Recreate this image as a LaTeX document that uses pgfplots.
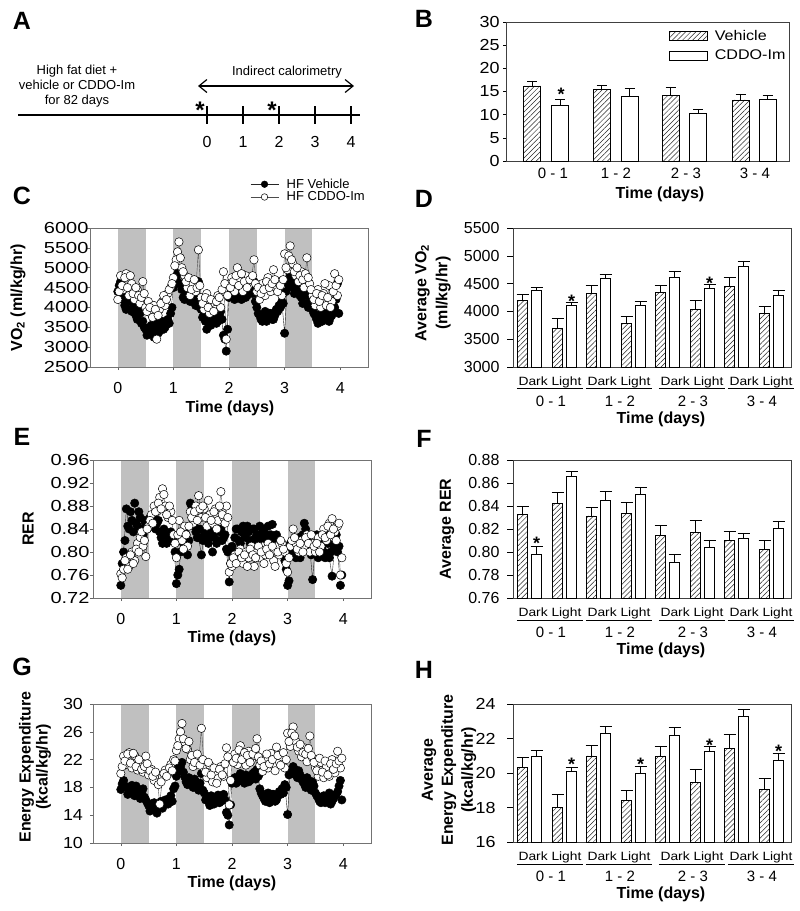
\documentclass[border=0pt]{standalone}
\usepackage{fontspec}
\setmainfont{Liberation Sans}
\newfontfamily\tickA[FakeStretch=1.25]{Liberation Sans}
\newfontfamily\tickB[FakeStretch=1.12]{Liberation Sans}
\newfontfamily\widefont[FakeStretch=1.15]{Liberation Sans}
\usepackage{pgfplots}
\pgfplotsset{compat=1.18}
\usetikzlibrary{patterns.meta,arrows.meta}
\definecolor{bandgray}{RGB}{192,192,192}

\newcommand{\tfA}{\tickA\fontsize{16}{18}\selectfont}
\newcommand{\tfB}{\tickB\fontsize{16}{18}\selectfont}
\newcommand{\tfN}{\fontsize{16}{18}\selectfont}
\newcommand{\labf}{\fontsize{16}{19}\selectfont\bfseries}
\newcommand{\letf}{\fontsize{25}{28}\selectfont\bfseries}
\newcommand{\dlf}{\widefont\fontsize{12}{14}\selectfont}
\newcommand{\grpf}{\fontsize{15}{17}\selectfont}
\newcommand{\legf}{\widefont\fontsize{14}{16}\selectfont}
\newcommand{\smf}{\fontsize{13}{15}\selectfont}
\newcommand{\starf}{\fontsize{18}{20}\selectfont\bfseries}

\pgfplotsset{
  scat/.style={scale only axis, width=278pt, height=139pt, xmin=-0.5, xmax=4.5,
    xtick={0,1,2,3,4}, xticklabels={0,1,2,3,4}, tick pos=left, tick align=outside,
    major tick length=3pt, tick style={black!60, line width=0.6pt},
    axis line style={black!55, line width=0.7pt},
    xticklabel style={font=\tfN, yshift=-9pt}, axis on top},
  veh/.style={black!85, line width=0.4pt, mark=*, mark size=4.2pt,
    mark options={fill=black, draw=black, line width=0.5pt}},
  cddo/.style={black!70, line width=0.4pt, mark=*, mark size=4.2pt,
    mark options={fill=white, draw=black, line width=0.5pt}},
  vehm/.style={veh, only marks, forget plot},
  cddom/.style={cddo, only marks, forget plot},
  band/.style={fill=bandgray, draw=none, forget plot},
  barax/.style={scale only axis, width=278pt, height=139pt, xmin=513, xmax=791,
    xtick=\empty, tick pos=left, tick align=outside, major tick length=6pt,
    tick style={black, line width=0.6pt}, axis line style={black!75, line width=0.7pt},
    yticklabel style={font=\tfN, xshift=-4pt}},
  errs/.style={error bars/y dir=plus, error bars/y explicit,
    error bars/error bar style={black, line width=0.6pt},
    error bars/error mark options={rotate=90, mark size=#1, black, line width=0.6pt}},
  vbar/.style={ybar, bar width=10, bar shift=0pt, draw=black, line width=0.6pt,
    pattern={Lines[angle=45,distance=3.6pt,line width=0.5pt]}, pattern color=black!85},
  cbar/.style={ybar, bar width=10, bar shift=0pt, draw=black, fill=white, line width=0.6pt},
}

\newcommand{\barlabels}[1]{%
  \foreach \xd/\g in {550/0 - 1, 619/1 - 2, 692/2 - 3, 761/3 - 4}{%
    \node[font=\dlf, inner xsep=1.5pt, inner ysep=1pt] (dl) at (\xd pt, -#1pt-15pt) {Dark Light};
    \draw[line width=0.6pt] (dl.south west) -- (dl.south east);
    \node[font=\grpf] at (\xd pt+1pt, -#1pt-34pt) {\g};
  }
  \node[font=\labf] at (661pt, -#1pt-52pt) {Time (days)};
}

\begin{document}
\begin{tikzpicture}
\path[use as bounding box] (0,0) rectangle (800pt,-911pt);

% ---------------- Panel A ----------------
\node[font=\letf] at (22pt,-21pt) {A};
\draw[line width=1.2pt] (18pt,-115pt) -- (360pt,-115pt);
\foreach \xx/\lab in {207/0,243/1,279/2,315/3,351/4}{
  \draw[line width=1.2pt] (\xx pt,-106pt) -- (\xx pt,-124pt);
  \node[font=\tfN] at (\xx pt,-142pt) {\lab};
}
\draw[line width=1.2pt, {Straight Barb[length=8pt,width=13pt]}-{Straight Barb[length=8pt,width=13pt]}] (198pt,-86pt) -- (354pt,-86pt);
\node[font=\smf] at (287pt,-72pt) {Indirect calorimetry};
\node[font=\smf, align=center] at (77pt,-86pt) {High fat diet +\\vehicle or CDDO-Im\\for 82 days};
\node[font=\fontsize{24}{26}\selectfont\bfseries] at (200pt,-110pt) {*};
\node[font=\fontsize{24}{26}\selectfont\bfseries] at (272pt,-110pt) {*};

% ---------------- Panel B ----------------
\node[font=\letf] at (424pt,-19pt) {B};
\begin{axis}[at={(506pt,-161pt)}, anchor=south west, scale only axis, width=283pt, height=139pt,
  xmin=506, xmax=789, ymin=0, ymax=30, xtick=\empty,
  ytick={0,5,10,15,20,25,30}, yticklabels={0,5,10,15,20,25,30},
  tick pos=left, tick align=outside, major tick length=3pt,
  tick style={black, line width=0.6pt}, axis line style={black!75, line width=0.7pt},
  yticklabel style={font=\tfB},
  legend style={at={(0.576,0.955)}, anchor=north west, draw=none, fill=none, font=\legf,
    inner sep=0pt, row sep=4pt, nodes={inner sep=2pt},
    /tikz/every odd column/.append style={column sep=5pt}},
  legend cell align=left,
  legend image code/.code={\draw[#1] (0pt,-4.5pt) rectangle (38pt,4.5pt);}]
\addplot[vbar, bar width=17, errs=5pt]
  coordinates {(532,16.2) +- (0,1.1) (601.5,15.5) +- (0,0.9) (670.5,14.1) +- (0,1.9) (740.5,13.2) +- (0,1.3)};
\addlegendentry{Vehicle}
\addplot[cbar, bar width=17, errs=5pt]
  coordinates {(560,12.1) +- (0,1.2) (629.5,14.0) +- (0,1.7) (698,10.3) +- (0,0.9) (767.5,13.4) +- (0,0.8)};
\addlegendentry{CDDO-Im}
\end{axis}
\node[font=\starf, anchor=base] at (561pt,-100pt) {*};
\foreach \xx/\g in {553/0 - 1, 616/1 - 2, 686/2 - 3, 755/3 - 4}{
  \node[font=\grpf] at (\xx pt,-173pt) {\g};
}
\node[font=\labf] at (660pt,-194pt) {Time (days)};

% ---------------- Panel C ----------------
\node[font=\letf] at (22pt,-196pt) {C};
\begin{axis}[scat, at={(90pt,-367pt)}, anchor=south west, ymin=2500, ymax=6000,
  ytick={2500,3000,3500,4000,4500,5000,5500,6000},
  yticklabels={2500,3000,3500,4000,4500,5000,5500,6000},
  yticklabel style={font=\tfA, xshift=5pt},
  legend style={at={(0.576,1.37)}, anchor=north west, draw=none, fill=none, font=\smf,
    inner sep=0pt, row sep=-2pt, nodes={inner sep=2pt},
    /tikz/every odd column/.append style={column sep=6pt}},
  legend cell align=left,
  legend image code/.code={\draw[mark repeat=2,mark phase=2,#1] plot coordinates {(0pt,0pt) (14pt,0pt) (28pt,0pt)};},
  legend image post style={mark size=3.3pt}]
\addplot[band] coordinates {(0,2500) (0.5,2500) (0.5,6000) (0,6000)} -- cycle;
\addplot[band] coordinates {(1,2500) (1.5,2500) (1.5,6000) (1,6000)} -- cycle;
\addplot[band] coordinates {(2,2500) (2.5,2500) (2.5,6000) (2,6000)} -- cycle;
\addplot[band] coordinates {(3,2500) (3.5,2500) (3.5,6000) (3,6000)} -- cycle;
\addplot[veh] coordinates {
(0.00,4400)(0.05,4650)(0.10,4200)(0.15,3950)(0.20,4300)(0.25,3900)(0.30,4050)(0.35,3700)
(0.40,3850)(0.45,3650)(0.50,3450)(0.55,3350)(0.60,3550)(0.65,3250)(0.70,3500)(0.75,3400)
(0.80,3650)(0.85,3500)(0.90,3700)(0.95,3850)(1.00,4500)(1.05,4750)(1.10,4950)(1.15,4450)
(1.20,4200)(1.25,4350)(1.30,4150)(1.35,4300)(1.40,4050)(1.45,4650)(1.50,3950)(1.55,3800)
(1.60,3450)(1.65,3750)(1.70,3600)(1.75,3850)(1.80,3650)(1.85,3900)(1.90,3300)(1.95,2900)
(2.00,4250)(2.05,4400)(2.10,4200)(2.15,4550)(2.20,4300)(2.25,4450)(2.30,4250)(2.35,4350)
(2.40,4500)(2.45,4650)(2.50,4000)(2.55,3800)(2.60,3650)(2.65,3900)(2.70,3750)(2.75,3850)
(2.80,3700)(2.85,3950)(2.90,4050)(2.95,4150)(3.00,3350)(3.05,4650)(3.10,4800)(3.15,4500)
(3.20,4700)(3.25,4400)(3.30,4250)(3.35,4450)(3.40,4100)(3.45,4300)(3.50,3950)(3.55,3800)
(3.60,3600)(3.65,3850)(3.70,3700)(3.75,3900)(3.80,3650)(3.85,3800)(3.90,4000)(3.95,4600)};
\addlegendentry{HF Vehicle}
\addplot[vehm] coordinates {
(0.025,4550)(0.075,4300)(0.125,4050)(0.175,4150)(0.225,3950)(0.275,4100)(0.325,3800)(0.375,3900)
(0.425,3600)(0.475,3500)(0.525,3300)(0.575,3500)(0.625,3400)(0.675,3600)(0.725,3350)(0.775,3550)
(0.825,3450)(0.875,3650)(0.925,3600)(0.975,4000)(1.025,4600)(1.075,4850)(1.125,4600)(1.175,4250)
(1.225,4400)(1.275,4200)(1.325,4350)(1.375,4150)(1.425,4250)(1.475,4000)(1.525,3750)(1.575,3650)
(1.625,3850)(1.675,3550)(1.725,3750)(1.775,3600)(1.825,3800)(1.875,3700)(1.925,3200)(1.975,3450)
(2.025,4350)(2.075,4300)(2.125,4450)(2.175,4350)(2.225,4200)(2.275,4400)(2.325,4300)(2.375,4450)
(2.425,4350)(2.475,4150)(2.525,3850)(2.575,3700)(2.625,3800)(2.675,3650)(2.725,3850)(2.775,3700)
(2.825,3800)(2.875,3900)(2.925,4000)(2.975,4100)(3.025,4400)(3.075,4550)(3.125,4650)(3.175,4350)
(3.225,4550)(3.275,4300)(3.325,4100)(3.375,4300)(3.425,4000)(3.475,4150)(3.525,3850)(3.575,3700)
(3.625,3750)(3.675,3650)(3.725,3800)(3.775,3700)(3.825,3750)(3.875,3900)(3.925,4200)(3.975,3850)};
\addplot[cddo] coordinates {
(0.00,4200)(0.05,4800)(0.10,4450)(0.15,4850)(0.20,4300)(0.25,4600)(0.30,4200)(0.35,4450)
(0.40,4100)(0.45,4650)(0.50,4000)(0.55,4150)(0.60,3850)(0.65,4050)(0.70,3200)(0.75,3950)
(0.80,4150)(0.85,4050)(0.90,4350)(0.95,4500)(1.00,4750)(1.05,5200)(1.10,5650)(1.15,5000)
(1.20,4800)(1.25,4500)(1.30,4300)(1.35,4600)(1.40,4400)(1.45,5450)(1.50,4250)(1.55,3950)
(1.60,4350)(1.65,3850)(1.70,4100)(1.75,3950)(1.80,4300)(1.85,4000)(1.90,4900)(1.95,3200)
(2.00,4600)(2.05,4750)(2.10,4400)(2.15,5000)(2.20,4650)(2.25,4400)(2.30,4800)(2.35,4550)
(2.40,4700)(2.45,5200)(2.50,4400)(2.55,4200)(2.60,4600)(2.65,4300)(2.70,4750)(2.75,4400)
(2.80,4950)(2.85,4500)(2.90,4650)(2.95,4300)(3.00,5350)(3.05,4950)(3.10,5550)(3.15,5100)
(3.20,4800)(3.25,4650)(3.30,4900)(3.35,4500)(3.40,5250)(3.45,4600)(3.50,4300)(3.55,4050)
(3.60,4450)(3.65,4000)(3.70,4350)(3.75,4050)(3.80,4550)(3.85,4150)(3.90,4850)(3.95,4300)};
\addlegendentry{HF CDDO-Im}
\addplot[cddom] coordinates {
(0.025,4400)(0.075,4550)(0.125,4750)(0.175,4500)(0.225,4800)(0.275,4350)(0.325,4500)(0.375,4300)
(0.425,4250)(0.475,4350)(0.525,3900)(0.575,4000)(0.625,3750)(0.675,3950)(0.725,3800)(0.775,4100)
(0.825,4300)(0.875,4200)(0.925,4450)(0.975,4600)(1.025,5050)(1.075,5400)(1.125,5250)(1.175,4900)
(1.225,4650)(1.275,4750)(1.325,4450)(1.375,4700)(1.425,4500)(1.475,4550)(1.525,4100)(1.575,4250)
(1.625,4000)(1.675,4200)(1.725,3900)(1.775,4150)(1.825,4250)(1.875,4450)(1.925,4600)(1.975,4300)
(2.025,4500)(2.075,4650)(2.125,4800)(2.175,4550)(2.225,4850)(2.275,4650)(2.325,4500)(2.375,4700)
(2.425,4800)(2.475,4600)(2.525,4500)(2.575,4350)(2.625,4450)(2.675,4650)(2.725,4500)(2.775,4600)
(2.825,4700)(2.875,4400)(2.925,4550)(2.975,4700)(3.025,5000)(3.075,5300)(3.125,5200)(3.175,4900)
(3.225,5000)(3.275,4800)(3.325,4700)(3.375,4850)(3.425,4750)(3.475,4450)(3.525,4200)(3.575,4350)
(3.625,4150)(3.675,4300)(3.725,4600)(3.775,4250)(3.825,4000)(3.875,4400)(3.925,4550)(3.975,4700)};
\end{axis}
\node[rotate=90, font=\labf] at (18pt,-298pt) {VO\textsubscript{2} (ml/kg/hr)};
\node[font=\labf] at (230pt,-408pt) {Time (days)};

% ---------------- Panel D ----------------
\node[font=\letf] at (424pt,-199pt) {D};
\begin{axis}[barax, at={(513pt,-367pt)}, anchor=south west, ymin=3000, ymax=5500,
  ytick={3000,3500,4000,4500,5000,5500}, yticklabels={3000,3500,4000,4500,5000,5500}]
\addplot[vbar, errs=6pt] coordinates {(522.5,4205) +- (0,102) (557.5,3705) +- (0,168)
  (591.5,4330) +- (0,140) (626.5,3783) +- (0,133) (660.5,4337) +- (0,133) (695.5,4036) +- (0,157)
  (729.5,4446) +- (0,162) (764.5,3964) +- (0,120)};
\addplot[cbar, errs=6pt] coordinates {(536.5,4386) +- (0,42) (571.5,4114) +- (0,43)
  (605.5,4600) +- (0,70) (640.5,4114) +- (0,73) (674.5,4608) +- (0,109) (709.5,4416) +- (0,72)
  (743.5,4807) +- (0,103) (778.5,4283) +- (0,91)};
\end{axis}
\node[font=\starf, anchor=base] at (571.5pt,-307pt) {*};
\node[font=\starf, anchor=base] at (709.5pt,-289pt) {*};
\node[rotate=90, font=\fontsize{16}{21}\selectfont\bfseries, align=center] at (433pt,-293pt) {Average VO\textsubscript{2}\\(ml/kg/hr)};
\barlabels{367}

% ---------------- Panel E ----------------
\node[font=\letf] at (22pt,-437pt) {E};
\begin{axis}[scat, at={(93pt,-598pt)}, anchor=south west, height=138pt, ymin=0.72, ymax=0.96,
  ytick={0.72,0.76,0.80,0.84,0.88,0.92,0.96},
  yticklabels={0.72,0.76,0.80,0.84,0.88,0.92,0.96},
  yticklabel style={font=\tfA, xshift=3pt}]
\addplot[band] coordinates {(0,0.72) (0.5,0.72) (0.5,0.96) (0,0.96)} -- cycle;
\addplot[band] coordinates {(1,0.72) (1.5,0.72) (1.5,0.96) (1,0.96)} -- cycle;
\addplot[band] coordinates {(2,0.72) (2.5,0.72) (2.5,0.96) (2,0.96)} -- cycle;
\addplot[band] coordinates {(3,0.72) (3.5,0.72) (3.5,0.96) (3,0.96)} -- cycle;
\addplot[veh] coordinates {
(0.00,0.742)(0.05,0.800)(0.10,0.875)(0.15,0.840)(0.20,0.855)(0.25,0.885)(0.30,0.845)(0.35,0.860)
(0.40,0.830)(0.45,0.850)(0.50,0.855)(0.55,0.845)(0.60,0.860)(0.65,0.850)(0.70,0.835)(0.75,0.815)
(0.80,0.830)(0.85,0.820)(0.90,0.835)(0.95,0.825)(1.00,0.745)(1.05,0.770)(1.10,0.825)(1.15,0.840)
(1.20,0.795)(1.25,0.885)(1.30,0.870)(1.35,0.835)(1.40,0.825)(1.45,0.795)(1.50,0.830)(1.55,0.840)
(1.60,0.825)(1.65,0.800)(1.70,0.835)(1.75,0.820)(1.80,0.840)(1.85,0.825)(1.90,0.805)(1.95,0.748)
(2.00,0.810)(2.05,0.825)(2.10,0.840)(2.15,0.815)(2.20,0.845)(2.25,0.825)(2.30,0.835)(2.35,0.820)
(2.40,0.840)(2.45,0.830)(2.50,0.845)(2.55,0.835)(2.60,0.820)(2.65,0.845)(2.70,0.830)(2.75,0.815)
(2.80,0.830)(2.85,0.815)(2.90,0.800)(2.95,0.785)(3.00,0.742)(3.05,0.815)(3.10,0.800)(3.15,0.790)
(3.20,0.825)(3.25,0.810)(3.30,0.850)(3.35,0.820)(3.40,0.805)(3.45,0.752)(3.50,0.815)(3.55,0.790)
(3.60,0.820)(3.65,0.800)(3.70,0.830)(3.75,0.790)(3.80,0.758)(3.85,0.815)(3.90,0.800)(3.95,0.742)};
\addplot[vehm] coordinates {
(0.025,0.780)(0.075,0.820)(0.125,0.845)(0.175,0.870)(0.225,0.835)(0.275,0.850)(0.325,0.870)(0.375,0.840)
(0.425,0.855)(0.475,0.840)(0.525,0.860)(0.575,0.850)(0.625,0.840)(0.675,0.855)(0.725,0.825)(0.775,0.840)
(0.825,0.815)(0.875,0.830)(0.925,0.820)(0.975,0.800)(1.025,0.760)(1.075,0.800)(1.125,0.815)(1.175,0.830)
(1.225,0.820)(1.275,0.880)(1.325,0.845)(1.375,0.825)(1.425,0.840)(1.475,0.820)(1.525,0.825)(1.575,0.815)
(1.625,0.835)(1.675,0.825)(1.725,0.815)(1.775,0.835)(1.825,0.820)(1.875,0.830)(1.925,0.800)(1.975,0.780)
(2.025,0.800)(2.075,0.840)(2.125,0.820)(2.175,0.835)(2.225,0.830)(2.275,0.845)(2.325,0.815)(2.375,0.840)
(2.425,0.825)(2.475,0.815)(2.525,0.825)(2.575,0.840)(2.625,0.830)(2.675,0.820)(2.725,0.848)(2.775,0.825)
(2.825,0.820)(2.875,0.810)(2.925,0.795)(2.975,0.770)(3.025,0.750)(3.075,0.805)(3.125,0.820)(3.175,0.800)
(3.225,0.790)(3.275,0.830)(3.325,0.840)(3.375,0.810)(3.425,0.795)(3.475,0.800)(3.525,0.830)(3.575,0.805)
(3.625,0.810)(3.675,0.790)(3.725,0.815)(3.775,0.800)(3.825,0.810)(3.875,0.830)(3.925,0.810)(3.975,0.760)};
\addplot[cddo] coordinates {
(0.00,0.762)(0.05,0.770)(0.10,0.790)(0.15,0.775)(0.20,0.800)(0.25,0.785)(0.30,0.815)(0.35,0.825)
(0.40,0.810)(0.45,0.792)(0.50,0.845)(0.55,0.865)(0.60,0.880)(0.65,0.870)(0.70,0.895)(0.75,0.910)
(0.80,0.880)(0.85,0.860)(0.90,0.870)(0.95,0.830)(1.00,0.790)(1.05,0.855)(1.10,0.820)(1.15,0.845)
(1.20,0.810)(1.25,0.870)(1.30,0.850)(1.35,0.880)(1.40,0.898)(1.45,0.860)(1.50,0.875)(1.55,0.845)
(1.60,0.865)(1.65,0.850)(1.70,0.875)(1.75,0.855)(1.80,0.905)(1.85,0.860)(1.90,0.880)(1.95,0.765)
(2.00,0.775)(2.05,0.795)(2.10,0.785)(2.15,0.805)(2.20,0.780)(2.25,0.800)(2.30,0.790)(2.35,0.810)
(2.40,0.775)(2.45,0.800)(2.50,0.790)(2.55,0.810)(2.60,0.795)(2.65,0.815)(2.70,0.800)(2.75,0.785)
(2.80,0.810)(2.85,0.795)(2.90,0.815)(2.95,0.800)(3.00,0.765)(3.05,0.810)(3.10,0.840)(3.15,0.815)
(3.20,0.800)(3.25,0.820)(3.30,0.810)(3.35,0.830)(3.40,0.800)(3.45,0.815)(3.50,0.800)(3.55,0.825)
(3.60,0.810)(3.65,0.840)(3.70,0.820)(3.75,0.850)(3.80,0.858)(3.85,0.835)(3.90,0.845)(3.95,0.760)};
\addplot[cddom] coordinates {
(0.025,0.755)(0.075,0.785)(0.125,0.770)(0.175,0.795)(0.225,0.780)(0.275,0.805)(0.325,0.800)(0.375,0.835)
(0.425,0.820)(0.475,0.840)(0.525,0.855)(0.575,0.850)(0.625,0.870)(0.675,0.885)(0.725,0.875)(0.775,0.900)
(0.825,0.865)(0.875,0.880)(0.925,0.855)(0.975,0.815)(1.025,0.830)(1.075,0.835)(1.125,0.805)(1.175,0.830)
(1.225,0.845)(1.275,0.860)(1.325,0.870)(1.375,0.855)(1.425,0.875)(1.475,0.880)(1.525,0.860)(1.575,0.890)
(1.625,0.855)(1.675,0.870)(1.725,0.840)(1.775,0.880)(1.825,0.865)(1.875,0.850)(1.925,0.860)(1.975,0.780)
(2.025,0.790)(2.075,0.780)(2.125,0.800)(2.175,0.790)(2.225,0.795)(2.275,0.775)(2.325,0.805)(2.375,0.795)
(2.425,0.790)(2.475,0.810)(2.525,0.800)(2.575,0.780)(2.625,0.805)(2.675,0.795)(2.725,0.810)(2.775,0.775)
(2.825,0.800)(2.875,0.820)(2.925,0.805)(2.975,0.780)(3.025,0.790)(3.075,0.820)(3.125,0.825)(3.175,0.805)
(3.225,0.815)(3.275,0.800)(3.325,0.825)(3.375,0.815)(3.425,0.830)(3.475,0.810)(3.525,0.815)(3.575,0.800)
(3.625,0.830)(3.675,0.825)(3.725,0.845)(3.775,0.830)(3.825,0.840)(3.875,0.820)(3.925,0.850)(3.975,0.790)};
\end{axis}
\node[rotate=90, font=\labf] at (28pt,-529pt) {RER};
\node[font=\labf] at (232pt,-638pt) {Time (days)};

% ---------------- Panel F ----------------
\node[font=\letf] at (424pt,-439pt) {F};
\begin{axis}[barax, at={(513pt,-598pt)}, anchor=south west, height=138pt, ymin=0.76, ymax=0.88,
  ytick={0.76,0.78,0.80,0.82,0.84,0.86,0.88}, yticklabels={0.76,0.78,0.80,0.82,0.84,0.86,0.88}]
\addplot[vbar, errs=6pt] coordinates {(522.5,0.833) +- (0,0.0065) (557.5,0.8424) +- (0,0.0096)
  (591.5,0.8314) +- (0,0.0073) (626.5,0.8337) +- (0,0.0093) (660.5,0.8144) +- (0,0.0084) (695.5,0.8173) +- (0,0.0101)
  (729.5,0.8098) +- (0,0.0086) (764.5,0.8026) +- (0,0.0072)};
\addplot[cbar, errs=6pt] coordinates {(536.5,0.798) +- (0,0.007) (571.5,0.866) +- (0,0.004)
  (605.5,0.8447) +- (0,0.0083) (640.5,0.8505) +- (0,0.0055) (674.5,0.7912) +- (0,0.0068) (709.5,0.8043) +- (0,0.0063)
  (743.5,0.8121) +- (0,0.0043) (778.5,0.8208) +- (0,0.0063)};
\end{axis}
\node[font=\starf, anchor=base] at (536.5pt,-549pt) {*};
\node[rotate=90, font=\labf] at (447pt,-529pt) {Average RER};
\barlabels{598}

% ---------------- Panel G ----------------
\node[font=\letf] at (22pt,-667pt) {G};
\begin{axis}[scat, at={(93pt,-843pt)}, anchor=south west, ymin=10, ymax=30,
  ytick={10,14,18,22,26,30}, yticklabels={10,14,18,22,26,30},
  yticklabel style={font=\tfB, xshift=-3.5pt}]
\addplot[band] coordinates {(0,10) (0.5,10) (0.5,30) (0,30)} -- cycle;
\addplot[band] coordinates {(1,10) (1.5,10) (1.5,30) (1,30)} -- cycle;
\addplot[band] coordinates {(2,10) (2.5,10) (2.5,30) (2,30)} -- cycle;
\addplot[band] coordinates {(3,10) (3.5,10) (3.5,30) (3,30)} -- cycle;
\addplot[veh] coordinates {
(0.00,17.7)(0.05,19.0)(0.10,18.0)(0.15,17.2)(0.20,18.3)(0.25,16.8)(0.30,17.6)(0.35,16.4)
(0.40,17.8)(0.45,16.2)(0.50,15.4)(0.55,14.8)(0.60,15.8)(0.65,14.3)(0.70,15.5)(0.75,15.0)
(0.80,16.2)(0.85,15.6)(0.90,16.8)(0.95,17.8)(1.00,19.6)(1.05,20.5)(1.10,21.6)(1.15,19.5)
(1.20,18.4)(1.25,19.0)(1.30,18.0)(1.35,18.8)(1.40,17.6)(1.45,20.0)(1.50,17.2)(1.55,16.5)
(1.60,15.4)(1.65,16.6)(1.70,15.8)(1.75,16.9)(1.80,16.0)(1.85,17.0)(1.90,14.4)(1.95,12.6)
(2.00,18.6)(2.05,19.4)(2.10,18.8)(2.15,20.0)(2.20,19.0)(2.25,19.8)(2.30,18.8)(2.35,19.5)
(2.40,20.2)(2.45,20.6)(2.50,17.8)(2.55,16.8)(2.60,16.0)(2.65,17.2)(2.70,16.4)(2.75,17.0)
(2.80,16.2)(2.85,17.4)(2.90,17.8)(2.95,18.4)(3.00,14.1)(3.05,20.5)(3.10,21.0)(3.15,19.8)
(3.20,20.4)(3.25,19.2)(3.30,18.5)(3.35,19.4)(3.40,17.9)(3.45,18.8)(3.50,17.2)(3.55,16.5)
(3.60,15.8)(3.65,16.8)(3.70,16.0)(3.75,17.2)(3.80,16.0)(3.85,16.8)(3.90,17.4)(3.95,19.0)};
\addplot[vehm] coordinates {
(0.025,18.5)(0.075,18.2)(0.125,17.0)(0.175,18.0)(0.225,17.4)(0.275,18.2)(0.325,16.8)(0.375,17.2)
(0.425,16.6)(0.475,15.8)(0.525,14.6)(0.575,15.6)(0.625,14.8)(0.675,15.2)(0.725,16.0)(0.775,15.6)
(0.825,15.8)(0.875,16.4)(0.925,16.0)(0.975,18.2)(1.025,20.8)(1.075,21.0)(1.125,20.2)(1.175,18.8)
(1.225,19.4)(1.275,18.4)(1.325,19.2)(1.375,17.9)(1.425,18.6)(1.475,17.6)(1.525,16.2)(1.575,16.0)
(1.625,16.8)(1.675,15.6)(1.725,16.4)(1.775,15.8)(1.825,16.6)(1.875,16.2)(1.925,14.0)(1.975,15.5)
(2.025,19.0)(2.075,18.6)(2.125,19.6)(2.175,19.2)(2.225,18.6)(2.275,19.4)(2.325,19.0)(2.375,20.0)
(2.425,19.2)(2.475,19.6)(2.525,17.2)(2.575,16.4)(2.625,16.8)(2.675,15.8)(2.725,17.0)(2.775,16.0)
(2.825,16.8)(2.875,17.0)(2.925,17.2)(2.975,18.0)(3.025,19.8)(3.075,20.0)(3.125,20.6)(3.175,19.4)
(3.225,19.8)(3.275,18.8)(3.325,18.0)(3.375,19.0)(3.425,17.6)(3.475,18.2)(3.525,16.8)(3.575,16.0)
(3.625,16.6)(3.675,15.8)(3.725,16.6)(3.775,15.6)(3.825,16.4)(3.875,17.0)(3.925,18.2)(3.975,16.2)};
\addplot[cddo] coordinates {
(0.00,20.0)(0.05,22.5)(0.10,21.3)(0.15,23.0)(0.20,20.8)(0.25,22.6)(0.30,20.5)(0.35,21.6)
(0.40,20.2)(0.45,22.5)(0.50,19.8)(0.55,20.6)(0.60,19.0)(0.65,19.8)(0.70,15.6)(0.75,19.5)
(0.80,20.5)(0.85,20.0)(0.90,21.3)(0.95,22.0)(1.00,23.3)(1.05,25.0)(1.10,27.2)(1.15,24.5)
(1.20,23.5)(1.25,22.0)(1.30,21.0)(1.35,22.5)(1.40,21.5)(1.45,26.5)(1.50,20.8)(1.55,19.4)
(1.60,21.2)(1.65,18.8)(1.70,20.0)(1.75,19.3)(1.80,21.0)(1.85,19.6)(1.90,23.7)(1.95,15.5)
(2.00,22.0)(2.05,22.8)(2.10,21.3)(2.15,24.0)(2.20,22.4)(2.25,21.2)(2.30,23.2)(2.35,21.9)
(2.40,22.6)(2.45,25.0)(2.50,21.2)(2.55,20.3)(2.60,22.2)(2.65,20.8)(2.70,22.9)(2.75,21.2)
(2.80,23.8)(2.85,21.7)(2.90,22.4)(2.95,20.8)(3.00,25.8)(3.05,23.9)(3.10,26.7)(3.15,24.6)
(3.20,23.2)(3.25,22.4)(3.30,23.7)(3.35,21.7)(3.40,25.4)(3.45,22.2)(3.50,20.8)(3.55,19.6)
(3.60,21.6)(3.65,19.4)(3.70,21.0)(3.75,19.6)(3.80,22.0)(3.85,20.1)(3.90,23.2)(3.95,20.8)};
\addplot[cddom] coordinates {
(0.025,21.0)(0.075,21.8)(0.125,22.8)(0.175,21.5)(0.225,22.9)(0.275,21.0)(0.325,22.0)(0.375,20.6)
(0.425,21.0)(0.475,21.4)(0.525,20.4)(0.575,19.6)(0.625,20.2)(0.675,18.4)(0.725,18.8)(0.775,20.0)
(0.825,19.6)(0.875,20.8)(0.925,20.4)(0.975,21.8)(1.025,24.0)(1.075,26.0)(1.125,25.0)(1.175,23.6)
(1.225,24.6)(1.275,22.6)(1.325,21.6)(1.375,22.8)(1.425,21.2)(1.475,22.0)(1.525,20.2)(1.575,21.6)
(1.625,19.8)(1.675,20.8)(1.725,18.6)(1.775,20.6)(1.825,19.8)(1.875,21.4)(1.925,22.4)(1.975,19.0)
(2.025,21.6)(2.075,22.2)(2.125,23.4)(2.175,22.0)(2.225,23.0)(2.275,22.6)(2.325,21.6)(2.375,22.8)
(2.425,23.6)(2.475,22.4)(2.525,21.8)(2.575,21.0)(2.625,22.8)(2.675,21.4)(2.725,22.0)(2.775,20.4)
(2.825,22.6)(2.875,21.2)(2.925,23.0)(2.975,22.0)(3.025,24.6)(3.075,25.8)(3.125,25.4)(3.175,23.8)
(3.225,24.2)(3.275,23.0)(3.325,22.8)(3.375,23.6)(3.425,22.6)(3.475,21.6)(3.525,20.4)(3.575,22.2)
(3.625,20.2)(3.675,21.8)(3.725,19.8)(3.775,21.4)(3.825,20.6)(3.875,21.4)(3.925,21.8)(3.975,22.2)};
\end{axis}
\node[rotate=90, font=\fontsize{16}{17}\selectfont\bfseries, align=center] at (35pt,-767pt) {Energy Expenditure\\(kcal/kg/hr)};
\node[font=\labf] at (232pt,-883pt) {Time (days)};

% ---------------- Panel H ----------------
\node[font=\letf] at (424pt,-670pt) {H};
\begin{axis}[barax, at={(513pt,-842pt)}, anchor=south west, height=138pt, ymin=16, ymax=24,
  ytick={16,18,20,22,24}, yticklabels={16,18,20,22,24},
  yticklabel style={font=\tfB, xshift=-4pt}]
\addplot[vbar, errs=6pt] coordinates {(522.5,20.32) +- (0,0.58) (557.5,18.02) +- (0,0.76)
  (591.5,20.99) +- (0,0.60) (626.5,18.39) +- (0,0.58) (660.5,20.99) +- (0,0.58) (695.5,19.47) +- (0,0.75)
  (729.5,21.44) +- (0,0.82) (764.5,19.05) +- (0,0.65)};
\addplot[cbar, errs=6pt] coordinates {(536.5,20.99) +- (0,0.31) (571.5,20.09) +- (0,0.25)
  (605.5,22.30) +- (0,0.39) (640.5,19.99) +- (0,0.39) (674.5,22.17) +- (0,0.46) (709.5,21.28) +- (0,0.29)
  (743.5,23.27) +- (0,0.42) (778.5,20.76) +- (0,0.39)};
\end{axis}
\node[font=\starf, anchor=base] at (571.5pt,-770pt) {*};
\node[font=\starf, anchor=base] at (640.5pt,-770pt) {*};
\node[font=\starf, anchor=base] at (709.5pt,-751pt) {*};
\node[font=\starf, anchor=base] at (778.5pt,-757pt) {*};
\node[rotate=90, font=\fontsize{16}{20}\selectfont\bfseries, align=center] at (449pt,-770pt) {Average\\Energy Expenditure\\(kcal/kg/hr)};
\barlabels{842}
\end{tikzpicture}
\end{document}
